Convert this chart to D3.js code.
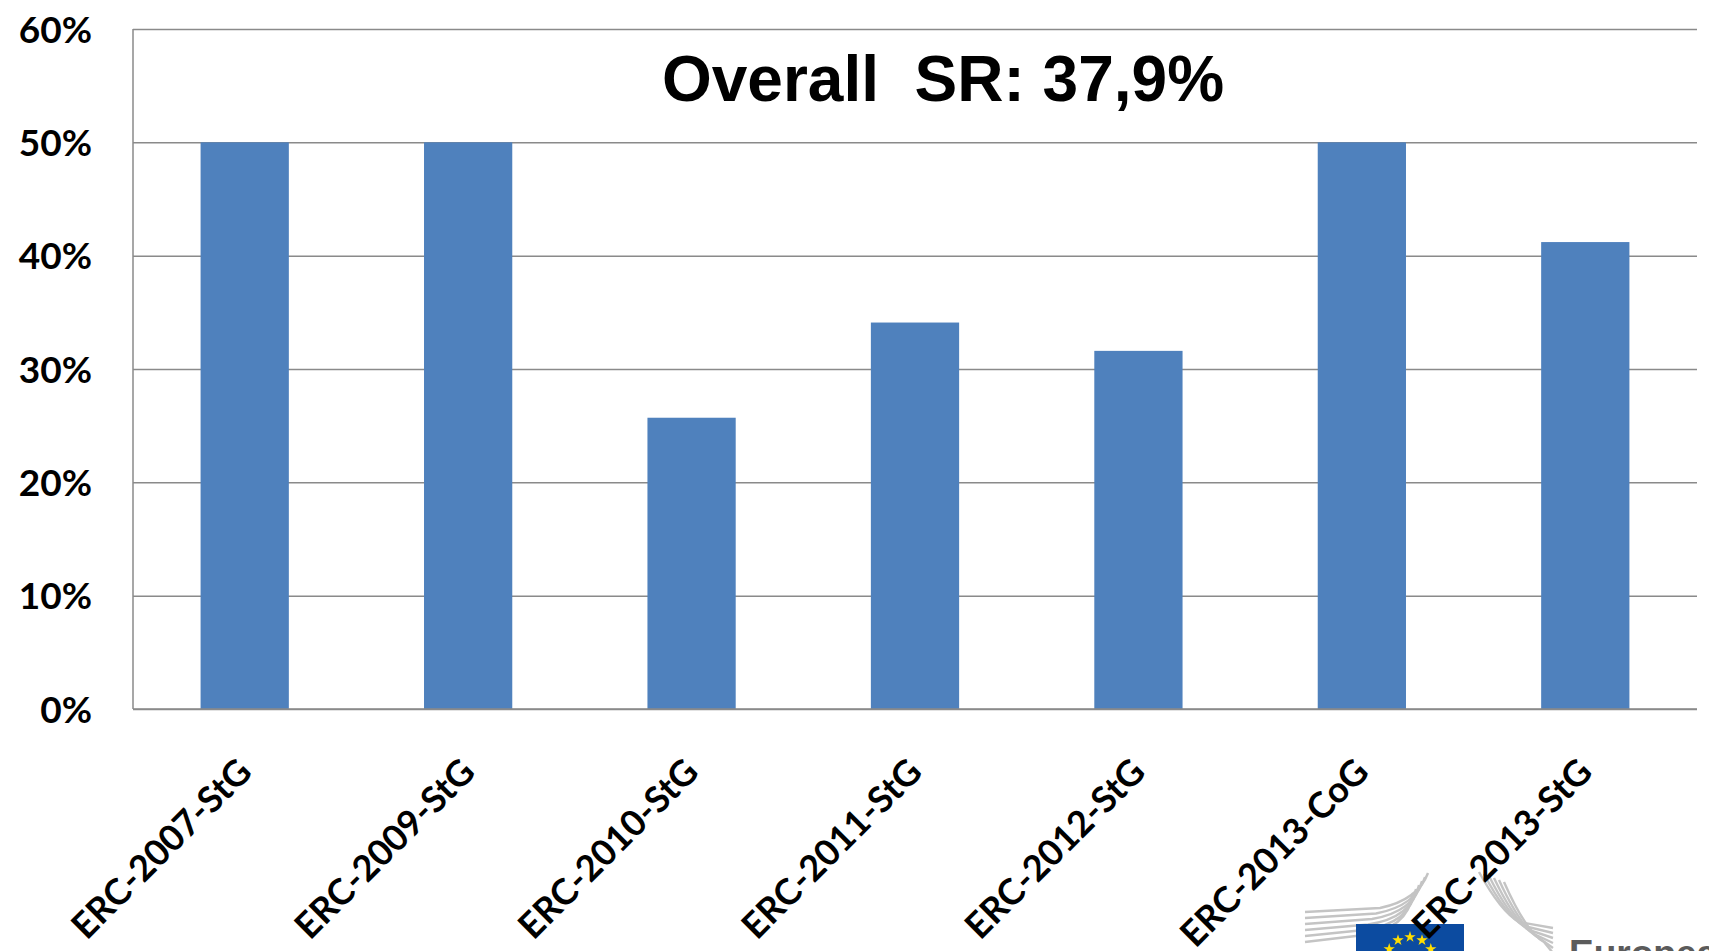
<!DOCTYPE html>
<html>
<head>
<meta charset="utf-8">
<script src="https://cdn.jsdelivr.net/npm/d3@7"></script>
<style>
    body { margin: 0; background: #fff; overflow: hidden; }
    svg { display: block; }
</style>
</head>
<body>
<script>
// calls and success rate per call
var calls = ["ERC-2007-StG", "ERC-2009-StG", "ERC-2010-StG", "ERC-2011-StG",
    "ERC-2012-StG", "ERC-2013-CoG", "ERC-2013-StG"]
var successRate = [0.50, 0.50, 0.257, 0.341, 0.316, 0.50, 0.412]
var yTicks = [0, 0.1, 0.2, 0.3, 0.4, 0.5, 0.6]
var title = "Overall  SR: 37,9%"

var width = 1709
var height = 951
var plotLeft = 133
var plotRight = 1697
var plotTop = 29
var plotBottom = 709
var gridColor = "#8a8a8a"
var barColor = "#4f81bd"

var svg = d3.select("body").append("svg")
    .attr("width", width)
    .attr("height", height)

var x = d3.scaleBand()
    .domain(calls)
    .range([plotLeft, plotRight])
    .paddingInner(0.605)
    .paddingOuter(0.3025)

var y = d3.scaleLinear()
    .domain([0, 0.6])
    .range([plotBottom, plotTop])

// gridlines first so the bars sit on top
var grid = svg.append("g")
    .attr("transform", "translate(" + plotLeft + ",0)")
    .call(d3.axisLeft(y).tickValues(yTicks).tickSize(-(plotRight - plotLeft)).tickFormat(""))
grid.select(".domain").remove()
grid.selectAll("line")
    .attr("stroke", gridColor)
    .attr("stroke-width", 1.5)

// y labels
var yAxis = svg.append("g")
    .attr("transform", "translate(" + plotLeft + ",0)")
    .call(d3.axisLeft(y).tickValues(yTicks).tickSize(0).tickPadding(41)
        .tickFormat(d3.format(".0%")))
yAxis.select(".domain").remove()
yAxis.selectAll("text")
    .attr("dy", "0.36em")
    .style("font-family", "Lato, 'Open Sans', sans-serif")
    .style("font-weight", "bold")
    .style("font-size", "37px")
    .style("fill", "#000")

svg.append("g")
    .selectAll("rect")
    .data(successRate)
    .join("rect")
    .attr("x", function(d, i) { return x(calls[i]) })
    .attr("y", function(d) { return y(d) })
    .attr("width", x.bandwidth())
    .attr("height", function(d) { return y(0) - y(d) })
    .style("fill", barColor)

// left and bottom axis lines
svg.append("line")
    .attr("x1", plotLeft).attr("x2", plotLeft)
    .attr("y1", plotTop).attr("y2", plotBottom)
    .attr("stroke", gridColor).attr("stroke-width", 1.5)
svg.append("line")
    .attr("x1", plotLeft).attr("x2", plotRight)
    .attr("y1", plotBottom).attr("y2", plotBottom)
    .attr("stroke", gridColor).attr("stroke-width", 1.5)

svg.append("text")
    .attr("x", 943)
    .attr("y", 101)
    .attr("text-anchor", "middle")
    .style("white-space", "pre")
    .style("font-family", "'Liberation Sans', Arial, sans-serif")
    .style("font-weight", "bold")
    .style("font-size", "64px")
    .text(title)

// European Commission logo, cut off by the bottom edge
var logo = svg.append("g")
var logoLines = "#c4c4c4"
d3.range(6).forEach(function(i) {
    var yy = 912 + i * 6
    logo.append("path")
        .attr("d", "M1305," + yy + " L" + (1380 - i * 4) + "," + (yy - 4 - i * 0.5) +
            " Q" + (1418 - i * 2) + "," + (yy - 12) + " " + (1428 - i * 3) + "," + (873 + i * 4))
        .attr("fill", "none")
        .attr("stroke", logoLines)
        .attr("stroke-width", 2.4)
})
d3.range(6).forEach(function(i) {
    var xx = 1479 + i * 5
    logo.append("path")
        .attr("d", "M" + xx + "," + (872 + i * 2) + " Q" + (xx + 22) + "," + (912 + i * 4) +
            " " + (xx + 40) + "," + (922 + i * 4) + " L1553," + (928 + i * 5))
        .attr("fill", "none")
        .attr("stroke", logoLines)
        .attr("stroke-width", 2.4)
})
logo.append("rect")
    .attr("x", 1356).attr("y", 924)
    .attr("width", 108).attr("height", 60)
    .style("fill", "#0c4ba0")
var star = d3.symbol().type(d3.symbolStar).size(40)
d3.range(12).forEach(function(i) {
    var a = i * Math.PI / 6
    logo.append("path")
        .attr("d", star)
        .attr("transform", "translate(" + (1410 + 24 * Math.sin(a)) + "," +
            (961 - 24 * Math.cos(a)) + ")")
        .style("fill", "#ffdd00")
})
logo.append("text")
    .attr("x", 1569)
    .attr("y", 966)
    .style("font-family", "'Liberation Sans', Arial, sans-serif")
    .style("font-weight", "bold")
    .style("font-size", "37px")
    .style("fill", "#5b5b5b")
    .text("European")

// rotated category labels
var xAxis = svg.append("g")
    .attr("transform", "translate(0," + plotBottom + ")")
    .call(d3.axisBottom(x).tickSize(0))
xAxis.select(".domain").remove()
xAxis.selectAll("text")
    .attr("x", 0)
    .attr("y", 0)
    .attr("dy", "0.35em")
    .attr("transform", "translate(0,56) rotate(-45)")
    .style("text-anchor", "end")
    .style("font-family", "Lato, 'Open Sans', sans-serif")
    .style("font-weight", "bold")
    .style("font-size", "36px")
    .style("fill", "#000")
</script>
</body>
</html>
